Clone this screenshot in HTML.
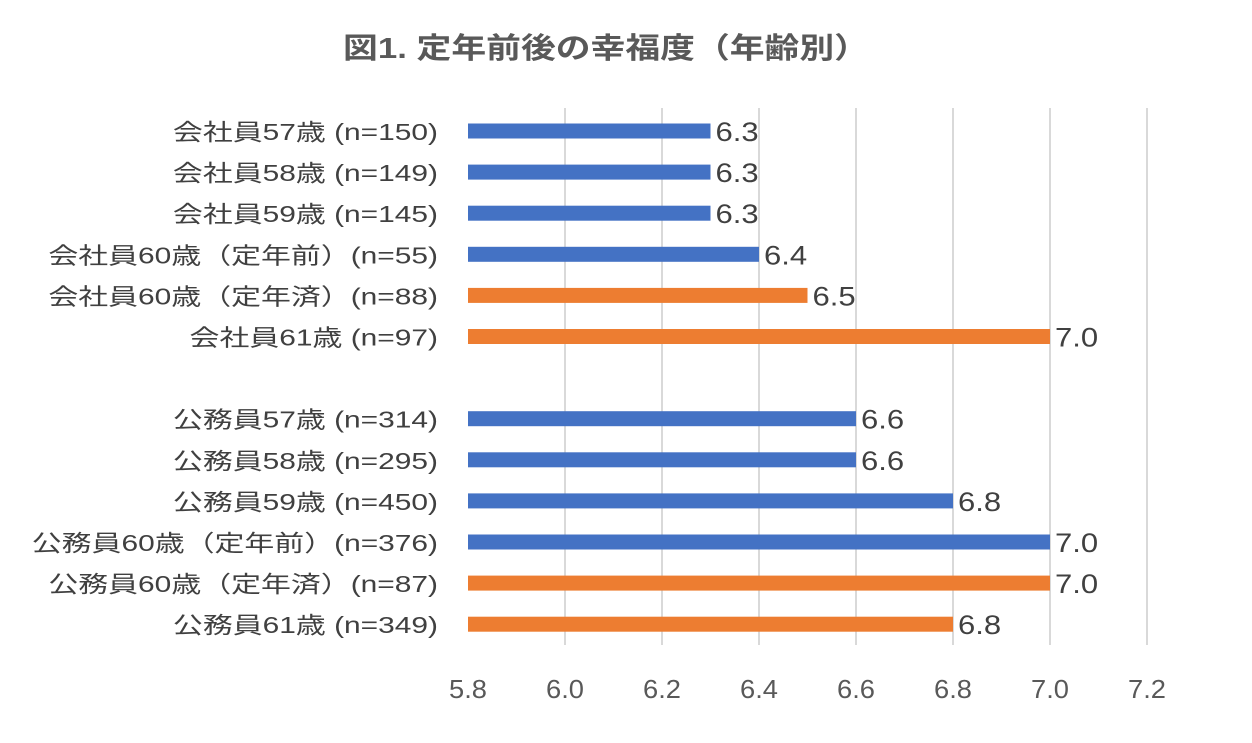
<!DOCTYPE html>
<html><head><meta charset="utf-8"><style>
body{margin:0;background:#fff;}
svg text{font-family:"Liberation Sans","Noto Sans CJK JP",sans-serif;}
</style></head><body>
<svg width="1252" height="738">
<text id="title" x="606" y="58" text-anchor="middle" font-size="29" font-weight="bold" fill="#595959">図1. 定年前後の幸福度（年齢別）</text>
<g id="grid"></g><g id="bars"></g><g id="labels"></g>
</svg>
<script>
const categories=["会社員57歳 (n=150)","会社員58歳 (n=149)","会社員59歳 (n=145)","会社員60歳（定年前）(n=55)","会社員60歳（定年済）(n=88)","会社員61歳 (n=97)","","公務員57歳 (n=314)","公務員58歳 (n=295)","公務員59歳 (n=450)","公務員60歳（定年前）(n=376)","公務員60歳（定年済）(n=87)","公務員61歳 (n=349)"];
const values=[6.3,6.3,6.3,6.4,6.5,7.0,null,6.6,6.6,6.8,7.0,7.0,6.8];
const valueLabels=["6.3","6.3","6.3","6.4","6.5","7.0","","6.6","6.6","6.8","7.0","7.0","6.8"];
const afterRetirement=[false,false,false,false,true,true,false,false,false,false,false,true,true];
const ticks=[5.8,6.0,6.2,6.4,6.6,6.8,7.0,7.2];
const tickLabels=["5.8","6.0","6.2","6.4","6.6","6.8","7.0","7.2"];
const NS="http://www.w3.org/2000/svg";
const x=v=>468+(v-5.8)/1.4*679;
const y=i=>131+i*41.1;
function mk(t,a,p){const e=document.createElementNS(NS,t);for(const k in a)e.setAttribute(k,a[k]);document.getElementById(p).appendChild(e);return e;}
function stretch(e,f){const w=e.getComputedTextLength();e.setAttribute('textLength',w*f);e.setAttribute('lengthAdjust','spacingAndGlyphs');}
stretch(document.getElementById('title'),1.2);
ticks.forEach((t,i)=>{
 if(i>0){const l=mk('line',{x1:x(t),x2:x(t),y1:108,y2:645,stroke:'#d9d9d9','stroke-width':2},'grid');
 
 }
 const tx=mk('text',{x:x(t),y:698,'text-anchor':'middle','font-size':26,fill:'#595959'},'labels');
 tx.textContent=tickLabels[i];
 
 
 stretch(tx,1.05);
});
categories.forEach((c,i)=>{
 if(values[i]===null)return;
 const r=mk('rect',{x:x(5.8),y:y(i)-7.5,width:x(values[i])-x(5.8),height:15,fill:afterRetirement[i]?'#ed7d31':'#4472c4'},'bars');
 
 
 const lb=mk('text',{x:438,y:y(i)+9,'text-anchor':'end','font-size':23,fill:'#404040'},'labels');
 lb.textContent=c;
 
 
 stretch(lb,1.3);
 const vl=mk('text',{x:x(values[i])+5,y:y(i)+10,'font-size':27,fill:'#404040'},'labels');
 vl.textContent=valueLabels[i];
 
 
 stretch(vl,1.15);
});
</script>
</body></html>
